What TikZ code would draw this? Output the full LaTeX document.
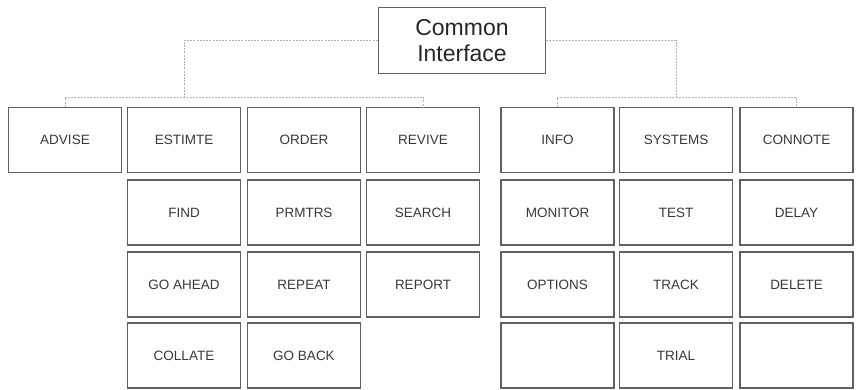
\documentclass[tikz,border=0pt]{standalone}
\usepackage{fontspec}
\setmainfont{Liberation Sans}
\begin{document}
\begin{tikzpicture}[x=1pt,y=-1pt,
  cell/.style={draw=black!62, line width=1.3pt, minimum width=113pt, minimum height=65pt,
    inner sep=0pt, text=black!78, font=\fontsize{13.5}{15}\selectfont},
  head/.style={draw=black!62, line width=1.3pt, minimum width=167pt, minimum height=66pt,
    inner sep=0pt, text=black!85, align=center, font=\fontsize{23}{26}\selectfont},
  conn/.style={draw=black!30, line width=0.6pt, dash pattern=on 2pt off 1.2pt}]
\useasboundingbox (0,0) rectangle (859,390);

% root
\node[head] (common) at (462,40.5) {Common\\Interface};

% left group
\node[cell] (advise)  at (65,140)    {ADVISE};
\node[cell] (estimte) at (184,140)   {ESTIMTE};
\node[cell] (order)   at (304,140)   {ORDER};
\node[cell] (revive)  at (423,140)   {REVIVE};
\node[cell] (find)    at (184,212.5) {FIND};
\node[cell] (prmtrs)  at (304,212.5) {PRMTRS};
\node[cell] (search)  at (423,212.5) {SEARCH};
\node[cell] (goahead) at (184,284.5) {GO AHEAD};
\node[cell] (repeat)  at (304,284.5) {REPEAT};
\node[cell] (report)  at (423,284.5) {REPORT};
\node[cell] (collate) at (184,355.5) {COLLATE};
\node[cell] (goback)  at (304,355.5) {GO BACK};

% right group
\node[cell] (info)    at (557.5,140)   {INFO};
\node[cell] (systems) at (676,140)     {SYSTEMS};
\node[cell] (connote) at (796.5,140)   {CONNOTE};
\node[cell] (monitor) at (557.5,212.5) {MONITOR};
\node[cell] (test)    at (676,212.5)   {TEST};
\node[cell] (delay)   at (796.5,212.5) {DELAY};
\node[cell] (options) at (557.5,284.5) {OPTIONS};
\node[cell] (track)   at (676,284.5)   {TRACK};
\node[cell] (delete)  at (796.5,284.5) {DELETE};
\node[cell] (blankA)  at (557.5,355.5) {};
\node[cell] (trial)   at (676,355.5)   {TRIAL};
\node[cell] (blankB)  at (796.5,355.5) {};

% connectors
\coordinate (barL) at (65,97);
\coordinate (barR) at (557.5,97);
\draw[conn] (advise.north) -- (barL) -- (barL -| revive.north) -- (revive.north);
\draw[conn] (common.west) -| (barL -| estimte.north);
\draw[conn] (info.north) -- (barR) -- (barR -| connote.north) -- (connote.north);
\draw[conn] (common.east) -| (barR -| systems.north);
\end{tikzpicture}
\end{document}
